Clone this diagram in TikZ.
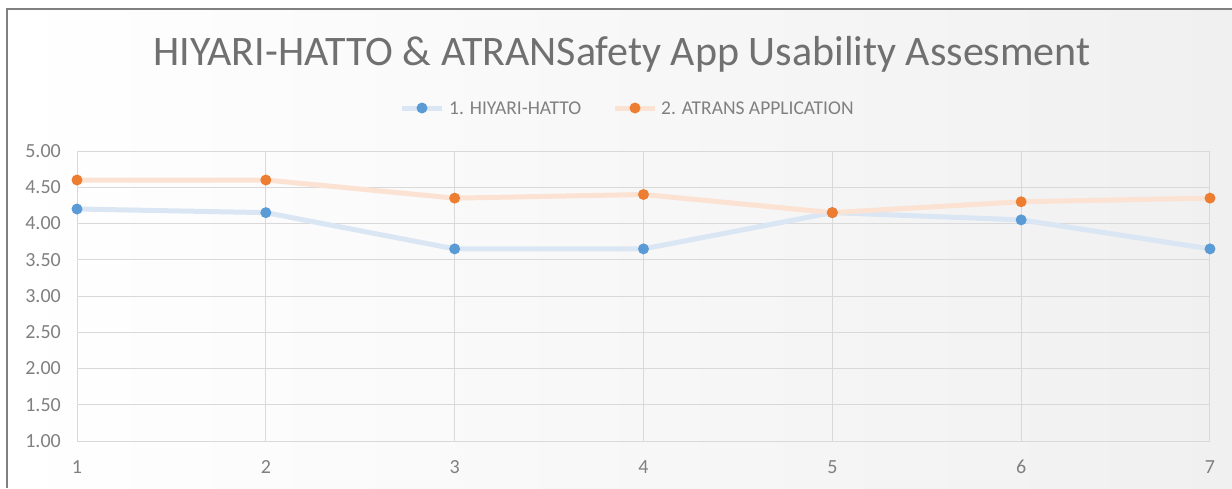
\documentclass[tikz,border=0pt]{standalone}
\usepackage{fontspec}
\setmainfont{Carlito}
\definecolor{bluedot}{HTML}{5B9BD5}
\definecolor{orangedot}{HTML}{ED7D31}
\definecolor{blueline}{HTML}{DAE6F3}
\definecolor{orangeline}{HTML}{FBE2D3}
\definecolor{gridc}{HTML}{D9D9D9}
\definecolor{labelc}{HTML}{808080}
\definecolor{titlec}{HTML}{707070}
\definecolor{framec}{HTML}{808080}
\definecolor{bgright}{HTML}{F0F0F0}
\tikzset{
  grid line/.style={draw=gridc, line width=1pt},
  ylab/.style={anchor=east, text=labelc, font=\fontsize{20}{24}\selectfont, inner sep=0pt},
  xlab/.style={anchor=center, text=labelc, font=\fontsize{20}{24}\selectfont, inner sep=0pt},
  bline/.style={draw=blueline, line width=5pt, line join=round},
  oline/.style={draw=orangeline, line width=5pt, line join=round},
  legtext/.style={anchor=west, text=labelc, font=\fontsize{19.5}{23}\selectfont, inner sep=0pt},
}
\begin{document}
\begin{tikzpicture}[x=1pt,y=-1pt]
\useasboundingbox (0,0) rectangle (1232,488);
\fill[white] (0,0) rectangle (1232,488);
\shade[left color=white, right color=bgright] (7,9) rectangle (1232,488);
\draw[framec, line width=2pt] (7,488) -- (7,9) -- (1232,9);
% title
\node[text=titlec, font=\fontsize{42}{48}\selectfont, inner sep=0pt] (title) at (622,54) {HIYARI-HATTO \& ATRANSafety App Usability Assesment};
% legend
\coordinate (lb1) at (402,108); \coordinate (lb2) at (442,108);
\draw[bline] (lb1) -- (lb2);
\fill[bluedot] (422,108) circle (5.5pt);
\node[legtext] (lbt) at (449,108) {1. HIYARI-HATTO};
\coordinate (lo1) at (615,108); \coordinate (lo2) at (655,108);
\draw[oline] (lo1) -- (lo2);
\fill[orangedot] (635,108) circle (5.5pt);
\node[legtext] (lot) at (661,108) {2. ATRANS APPLICATION};
% grid
\foreach \v/\t in {0/5.00,1/4.50,2/4.00,3/3.50,4/3.00,5/2.50,6/2.00,7/1.50,8/1.00} {
  \pgfmathsetmacro{\yy}{151+\v*36.25}
  \draw[grid line] (77,\yy) -- (1210,\yy);
  \node[ylab] at (61,\yy) {\t};
}
\foreach \i in {1,...,7} {
  \pgfmathsetmacro{\xx}{77+(\i-1)*188.83}
  \draw[grid line] (\xx,151) -- (\xx,441);
  \node[xlab] at (\xx,467) {\i};
}
% data
\foreach \i/\b/\o in {1/4.20/4.60,2/4.15/4.60,3/3.65/4.35,4/3.65/4.40,5/4.15/4.15,6/4.05/4.30,7/3.65/4.35} {
  \pgfmathsetmacro{\xx}{77+(\i-1)*188.83}
  \pgfmathsetmacro{\yb}{441-(\b-1)*72.5}
  \pgfmathsetmacro{\yo}{441-(\o-1)*72.5}
  \coordinate (b\i) at (\xx,\yb);
  \coordinate (o\i) at (\xx,\yo);
}
\draw[bline] (b1) -- (b2) -- (b3) -- (b4) -- (b5) -- (b6) -- (b7);
\draw[oline] (o1) -- (o2) -- (o3) -- (o4) -- (o5) -- (o6) -- (o7);
\foreach \i in {1,...,7} {
  \fill[bluedot] (b\i) circle (5.5pt);
  \fill[orangedot] (o\i) circle (5.5pt);
}
\end{tikzpicture}
\end{document}
